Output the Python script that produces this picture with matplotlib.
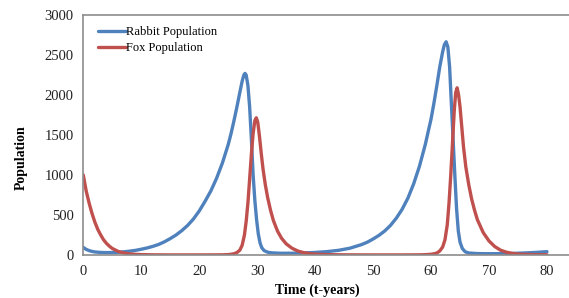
import matplotlib
matplotlib.use("Agg")
import matplotlib.pyplot as plt

plt.rcParams['font.family'] = ['Liberation Serif', 'DejaVu Serif']

# Rabbit population
t_rabbit = [0, 0.5, 1, 1.5, 2, 3, 4, 5, 6, 7, 8, 9, 10, 11, 12, 13, 14, 15, 16, 17,
            18, 19, 20, 21, 22, 23, 24, 25, 25.5, 26, 26.5, 27, 27.4, 27.7, 27.9,
            28.1, 28.4, 28.7, 29, 29.3, 29.6, 29.9, 30.2, 30.5, 30.8, 31.2, 31.8,
            32.5, 34, 36, 38, 40, 42, 44, 46, 48, 49, 50, 51, 52, 53, 54, 55, 56,
            57, 58, 59, 60, 60.5, 61, 61.5, 62, 62.3, 62.6, 62.9, 63.2, 63.5, 63.8,
            64.1, 64.4, 64.7, 65, 65.4, 65.9, 66.5, 68, 70, 72, 74, 76, 78, 80]
rabbit = [95, 70, 55, 45, 38, 32, 30, 31, 34, 40, 48, 58, 72, 88, 108, 132, 165, 205,
          250, 305, 370, 450, 550, 670, 800, 960, 1150, 1380, 1520, 1680, 1850, 2030,
          2170, 2250, 2270, 2250, 2120, 1850, 1450, 1000, 680, 440, 260, 150, 90, 55,
          35, 27, 22, 22, 25, 32, 42, 58, 85, 130, 160, 200, 245, 300, 370, 460, 570,
          710, 890, 1110, 1380, 1700, 1900, 2120, 2350, 2540, 2630, 2665, 2600, 2350,
          1900, 1450, 1000, 580, 300, 160, 80, 40, 25, 18, 16, 17, 20, 25, 32, 42]

# Fox population
t_fox = [0, 0.5, 1, 1.5, 2, 2.5, 3, 3.5, 4, 4.5, 5, 6, 7, 8, 9, 10, 12, 15, 20, 24,
         25, 25.5, 26, 26.5, 27, 27.4, 27.8, 28.1, 28.4, 28.7, 29, 29.3, 29.6, 29.85,
         30.1, 30.4, 30.7, 31, 31.4, 31.8, 32.3, 32.8, 33.5, 34.2, 35, 36, 37, 38, 39,
         40, 42, 45, 50, 55, 58, 59, 60, 60.5, 61, 61.5, 62, 62.4, 62.8, 63.1, 63.4,
         63.7, 64, 64.25, 64.5, 64.75, 65, 65.3, 65.6, 66, 66.5, 67, 67.5, 68, 69, 70,
         71, 72, 73, 74, 75, 76, 78, 80]
fox = [1000, 800, 650, 520, 410, 320, 250, 190, 145, 110, 82, 45, 25, 14, 8, 5, 2, 1,
       1, 2, 5, 9, 16, 30, 60, 120, 250, 420, 650, 950, 1260, 1520, 1680, 1715, 1660,
       1480, 1270, 1080, 880, 720, 560, 430, 300, 210, 140, 85, 50, 30, 18, 11, 5, 2,
       1, 1, 2, 4, 9, 15, 25, 50, 100, 190, 380, 650, 1000, 1400, 1800, 2030, 2090,
       2000, 1850, 1600, 1350, 1100, 880, 700, 560, 440, 280, 175, 105, 60, 35, 20, 12,
       8, 4, 3]

x_ticks = [0, 10, 20, 30, 40, 50, 60, 70, 80]
y_ticks = [0, 500, 1000, 1500, 2000, 2500, 3000]

W, H = 569, 298
fig = plt.figure(figsize=(W / 100, H / 100), dpi=100)
ax = fig.add_axes([83.3 / W, 1 - 255 / H, (W - 83.3) / W, 240 / H])

ax.plot(t_rabbit, rabbit, color='#4F81BD', lw=2.4, label='Rabbit Population',
        solid_capstyle='round', solid_joinstyle='round')
ax.plot(t_fox, fox, color='#C0504D', lw=2.4, label='Fox Population',
        solid_capstyle='round', solid_joinstyle='round')

ax.set_xlim(0, (W - 83.3) / 5.796)
ax.set_ylim(0, 3000)
ax.set_xticks(x_ticks)
ax.set_yticks(y_ticks)
ax.tick_params(length=0, labelsize=10.5, colors='#222222')
ax.tick_params(axis='x', pad=7)
ax.tick_params(axis='y', pad=7)

for side in ['left', 'bottom', 'top']:
    ax.spines[side].set_color('#8c8c8c')
    ax.spines[side].set_linewidth(1.2)
ax.spines['right'].set_visible(False)

leg = ax.legend(loc='upper left', bbox_to_anchor=(0.015, 0.985), frameon=False,
                fontsize=9, handlelength=2.2, handletextpad=0.0, labelspacing=0.35,
                borderaxespad=0.2)

fig.text(317.5 / W, 1 - 290 / H, 'Time (t-years)', ha='center', va='center',
         fontsize=10, fontweight='bold')
fig.text(21.7 / W, 1 - 157.5 / H, 'Population', ha='center', va='center',
         rotation=90, fontsize=10, fontweight='bold')

fig.savefig('out.png', dpi=100)
